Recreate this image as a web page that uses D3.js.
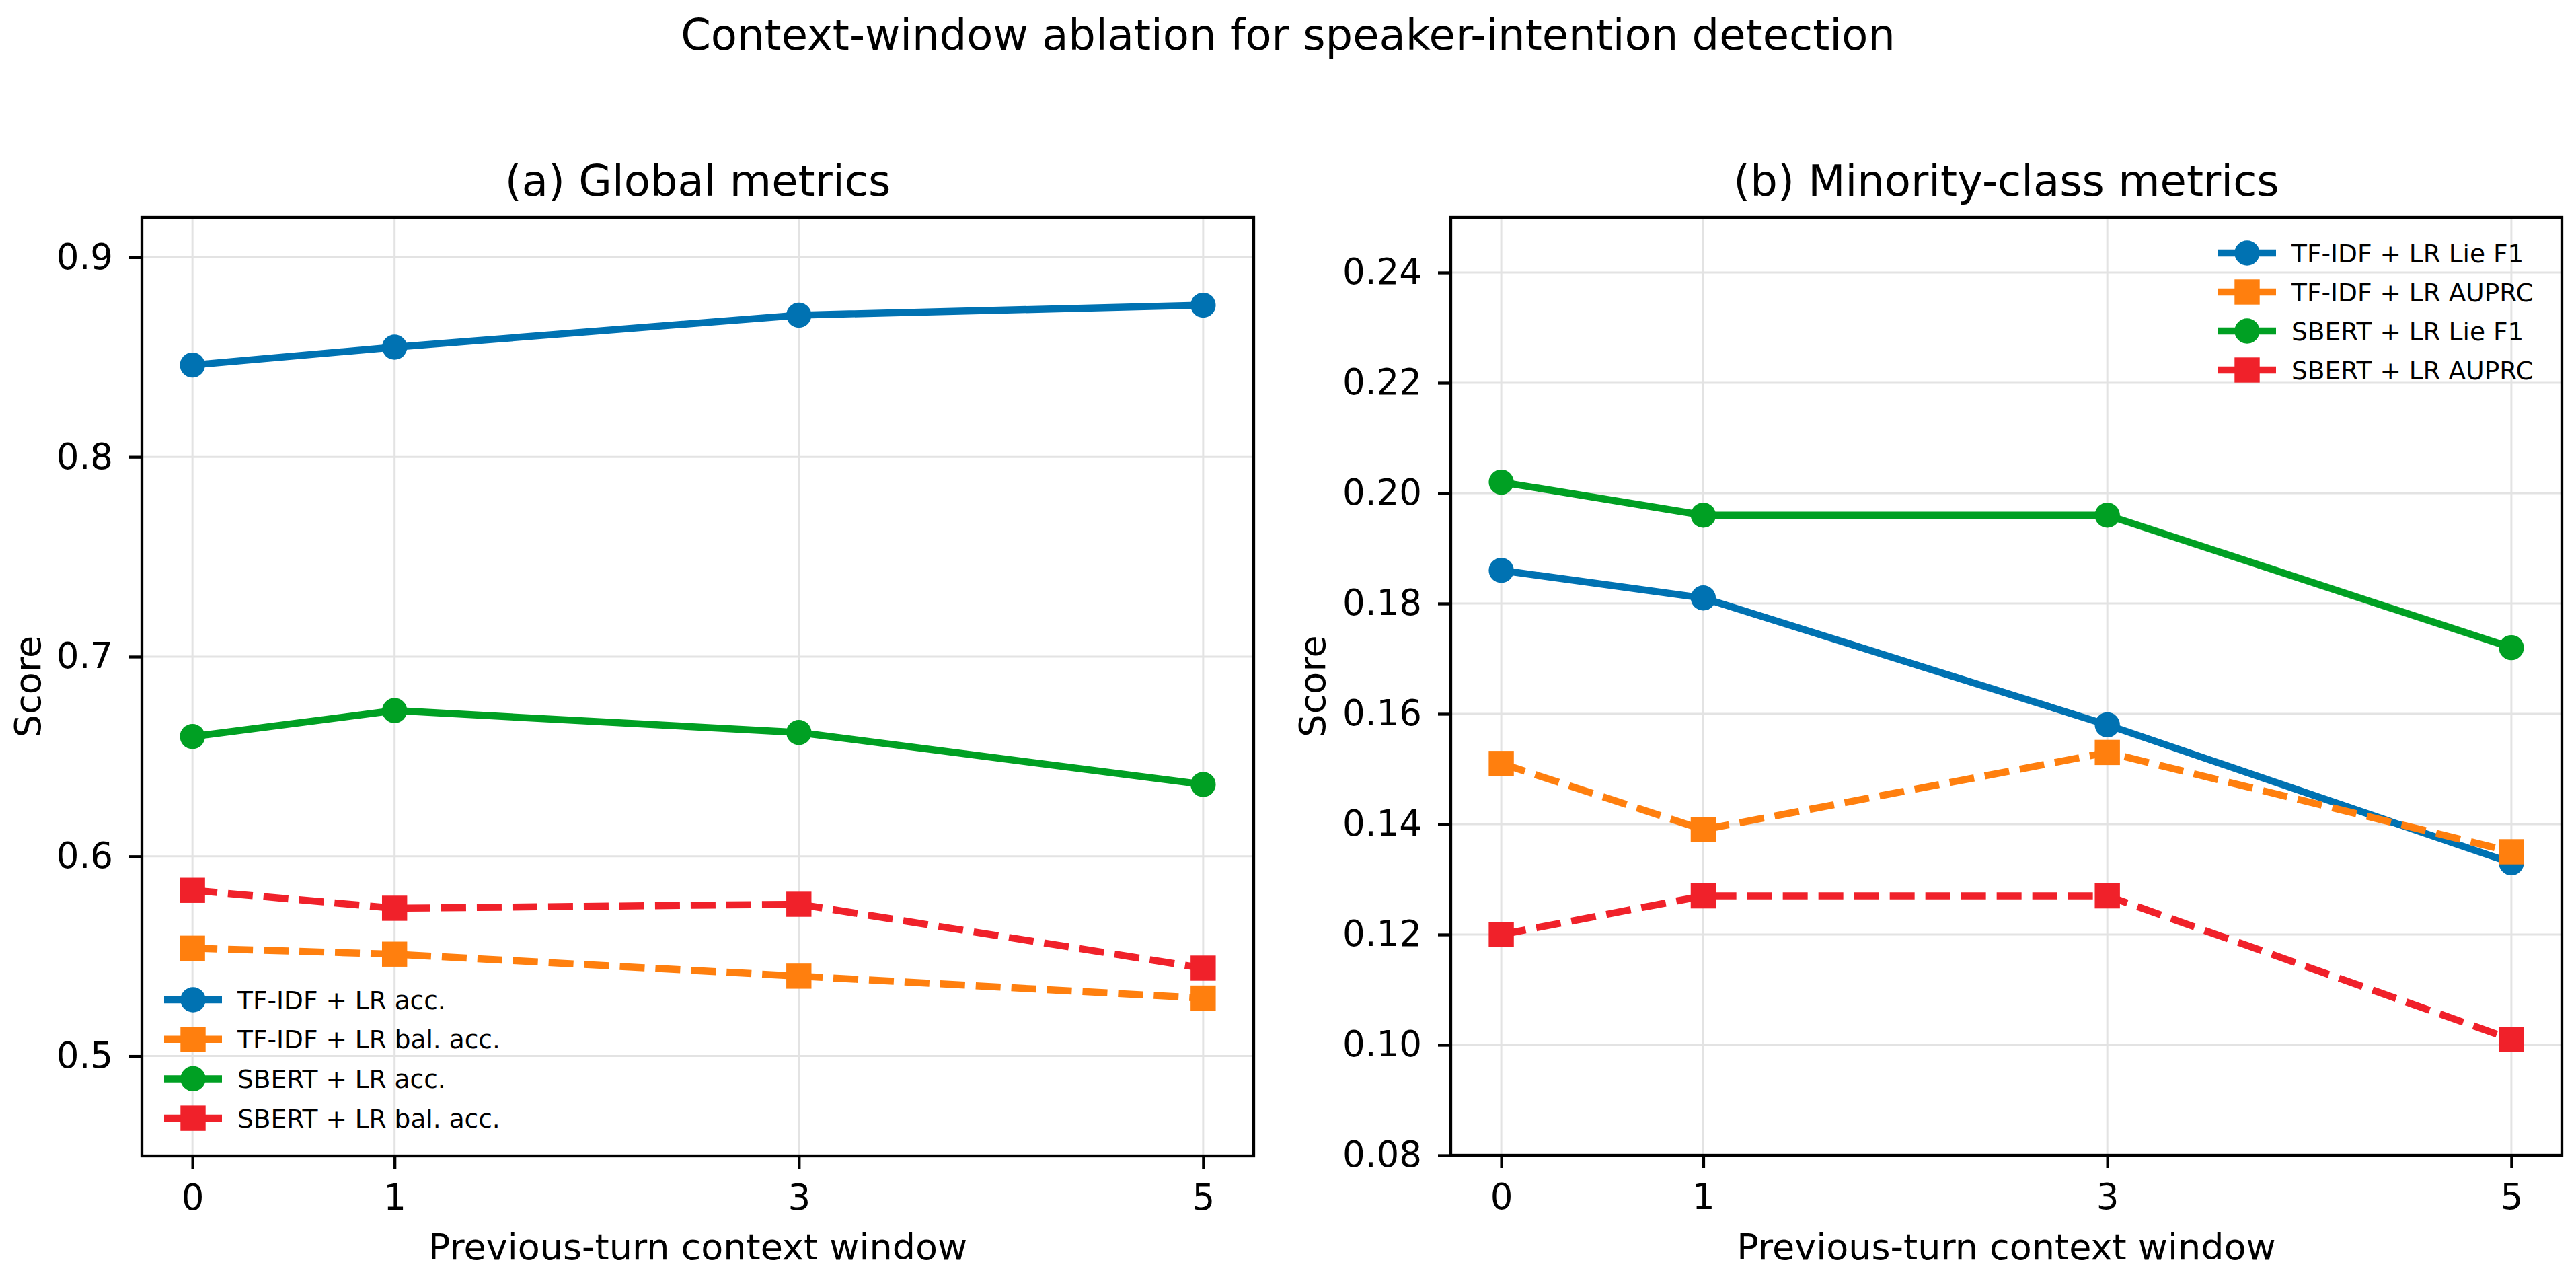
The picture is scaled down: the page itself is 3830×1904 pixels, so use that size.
<!DOCTYPE html>
<html>
<head>
<meta charset="utf-8">
<script src="https://cdn.jsdelivr.net/npm/d3@7"></script>
<style>
  body { margin: 0; background: #fff; }
  svg { display: block; font-family: "DejaVu Sans", sans-serif; }
</style>
</head>
<body>
<svg id="chart" width="3830" height="1904"></svg>
<script>
// context window sizes on the x axis
var windows = [0, 1, 3, 5]

// (a) global metrics
var tfidfAcc    = [0.846, 0.855, 0.871, 0.876]
var tfidfBalAcc = [0.554, 0.551, 0.540, 0.529]
var sbertAcc    = [0.660, 0.673, 0.662, 0.636]
var sbertBalAcc = [0.583, 0.574, 0.576, 0.544]
var globalTicks = [0.5, 0.6, 0.7, 0.8, 0.9]

// (b) minority-class metrics
var tfidfLieF1 = [0.186, 0.181, 0.158, 0.133]
var tfidfAuprc = [0.151, 0.139, 0.153, 0.135]
var sbertLieF1 = [0.202, 0.196, 0.196, 0.172]
var sbertAuprc = [0.120, 0.127, 0.127, 0.101]
var minorityTicks = [0.08, 0.10, 0.12, 0.14, 0.16, 0.18, 0.20, 0.22, 0.24]

var blue = "#0072b2", orange = "#ff7f0e", green = "#00a023", red = "#f0212a"

var svg = d3.select("#chart")

svg.append("text")
  .attr("x", 1915).attr("y", 74)
  .attr("text-anchor", "middle")
  .attr("font-size", 64)
  .text("Context-window ablation for speaker-intention detection")

var panel = function(p) {
  var x = d3.scaleLinear().domain([-0.25, 5.25]).range([p.left, p.right])
  var y = d3.scaleLinear().domain(p.yDomain).range([p.bottom, p.top])
  var g = svg.append("g")

  // grid
  g.selectAll(".gx").data(windows).enter().append("line")
    .attr("x1", function(d) { return x(d) }).attr("x2", function(d) { return x(d) })
    .attr("y1", p.top).attr("y2", p.bottom)
    .attr("stroke", "#e3e3e3").attr("stroke-width", 3)
  g.selectAll(".gy").data(p.ticks).enter().append("line")
    .attr("x1", p.left).attr("x2", p.right)
    .attr("y1", function(d) { return y(d) }).attr("y2", function(d) { return y(d) })
    .attr("stroke", "#e3e3e3").attr("stroke-width", 3)

  // axes
  var ya = g.append("g")
    .attr("transform", "translate(" + p.left + ",0)")
    .call(d3.axisLeft(y).tickValues(p.ticks).tickFormat(d3.format(p.fmt)).tickSize(19).tickPadding(24))
  var xa = g.append("g")
    .attr("transform", "translate(0," + p.bottom + ")")
    .call(d3.axisBottom(x).tickValues(windows).tickFormat(d3.format("d")).tickSize(19).tickPadding(23))
  ;[ya, xa].forEach(function(a) {
    a.select(".domain").remove()
    a.attr("font-size", 53).attr("font-family", "DejaVu Sans")
    a.selectAll("line").attr("stroke-width", 4.3)
    a.selectAll("text").attr("fill", "#000")
  })

  // frame
  g.append("rect")
    .attr("x", p.left).attr("y", p.top)
    .attr("width", p.right - p.left).attr("height", p.bottom - p.top)
    .attr("fill", "none").attr("stroke", "#000").attr("stroke-width", 4.3)

  // labels
  g.append("text")
    .attr("x", (p.left + p.right) / 2).attr("y", 291)
    .attr("text-anchor", "middle").attr("font-size", 64)
    .text(p.title)
  g.append("text")
    .attr("x", (p.left + p.right) / 2).attr("y", 1872)
    .attr("text-anchor", "middle").attr("font-size", 54)
    .text("Previous-turn context window")
  g.append("text")
    .attr("transform", "translate(" + p.yLabelX + "," + ((p.top + p.bottom) / 2) + ") rotate(-90)")
    .attr("text-anchor", "middle").attr("font-size", 54)
    .text("Score")

  // series
  var line = d3.line()
  p.series.forEach(function(s) {
    var pts = windows.map(function(w, i) { return [x(w), y(s.values[i])] })
    g.append("path")
      .attr("d", line(pts))
      .attr("fill", "none").attr("stroke", s.color).attr("stroke-width", 10.5)
      .attr("stroke-dasharray", s.dashed ? "37,16" : null)
    drawMarker(g, s, pts)
  })

  // legend
  p.series.forEach(function(s, i) {
    var ly = p.legY + i * p.legStep
    g.append("line")
      .attr("x1", p.legX - 43).attr("x2", p.legX + 43)
      .attr("y1", ly).attr("y2", ly)
      .attr("stroke", s.color).attr("stroke-width", 10.5)
      .attr("stroke-dasharray", s.dashed ? "37,16" : null)
    drawMarker(g, s, [[p.legX, ly]])
    g.append("text")
      .attr("x", p.legX + 66).attr("y", ly).attr("dy", "0.36em")
      .attr("font-size", 37.5)
      .text(s.name)
  })
}

var drawMarker = function(g, s, pts) {
  if (s.shape == "circle") {
    g.selectAll(null).data(pts).enter().append("circle")
      .attr("cx", function(d) { return d[0] }).attr("cy", function(d) { return d[1] })
      .attr("r", 18.7).attr("fill", s.color)
  } else {
    g.selectAll(null).data(pts).enter().append("rect")
      .attr("x", function(d) { return d[0] - 18.7 }).attr("y", function(d) { return d[1] - 18.7 })
      .attr("width", 37.4).attr("height", 37.4).attr("fill", s.color)
  }
}

panel({
  left: 211, right: 1864, top: 323, bottom: 1718,
  yDomain: [0.45, 0.92], ticks: globalTicks, fmt: ".1f",
  title: "(a) Global metrics", yLabelX: 60,
  legX: 287, legY: 1486, legStep: 58.7,
  series: [
    {name: "TF-IDF + LR acc.", values: tfidfAcc, color: blue, shape: "circle"},
    {name: "TF-IDF + LR bal. acc.", values: tfidfBalAcc, color: orange, shape: "square", dashed: true},
    {name: "SBERT + LR acc.", values: sbertAcc, color: green, shape: "circle"},
    {name: "SBERT + LR bal. acc.", values: sbertBalAcc, color: red, shape: "square", dashed: true}
  ]
})

panel({
  left: 2157, right: 3809, top: 323, bottom: 1717,
  yDomain: [0.08, 0.25], ticks: minorityTicks, fmt: ".2f",
  title: "(b) Minority-class metrics", yLabelX: 1970,
  legX: 3341, legY: 376, legStep: 58,
  series: [
    {name: "TF-IDF + LR Lie F1", values: tfidfLieF1, color: blue, shape: "circle"},
    {name: "TF-IDF + LR AUPRC", values: tfidfAuprc, color: orange, shape: "square", dashed: true},
    {name: "SBERT + LR Lie F1", values: sbertLieF1, color: green, shape: "circle"},
    {name: "SBERT + LR AUPRC", values: sbertAuprc, color: red, shape: "square", dashed: true}
  ]
})
</script>
</body>
</html>
